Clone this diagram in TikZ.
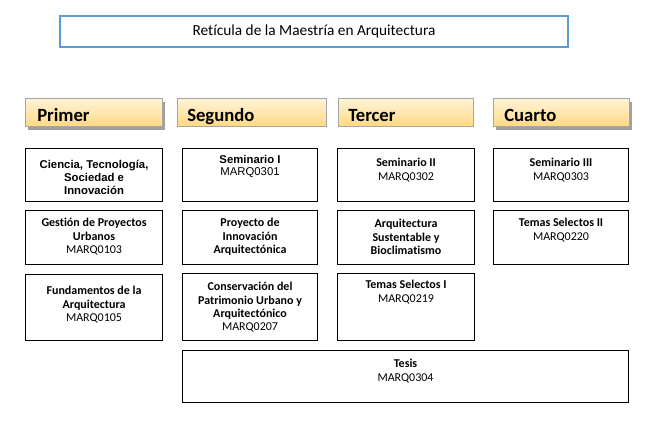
\documentclass[tikz,border=0pt]{standalone}
\usepackage{fontspec}
\setmainfont{Carlito}[Ligatures=NoCommon]
\newfontfamily\arialfont{Liberation Sans}
\usetikzlibrary{positioning,shadows}
\newlength{\pxu}
\setlength{\pxu}{0.75pt}
\definecolor{titleblue}{HTML}{5B9BD5}
\definecolor{hdrtop}{HTML}{FFF3D6}
\definecolor{hdrbot}{HTML}{FFD982}
\definecolor{hdrline}{HTML}{A6A6A6}
\definecolor{hdrshadow}{HTML}{A0A0A0}
\tikzset{
  hdr/.style={draw=hdrline, line width=0.9pt, top color=hdrtop, bottom color=hdrbot, anchor=north west, minimum height=28\pxu, inner sep=0pt},
  hdrshade/.style={drop shadow={shadow xshift=2.5\pxu, shadow yshift=-3\pxu, fill=hdrshadow, opacity=1}},
  hdrtext/.style={anchor=base west, inner sep=0pt, font=\fontsize{14}{16}\selectfont\bfseries},
  course/.style={draw, line width=0.8pt, anchor=north west, inner sep=0pt},
  ctext/.style={anchor=north, inner sep=0pt, align=center, font=\fontsize{9}{10}\selectfont},
}
\begin{document}
\begin{tikzpicture}[x=0.75pt,y=-0.75pt]
    \useasboundingbox (0,0) rectangle (652,422);
    \node[draw=titleblue, line width=1pt, minimum width=508\pxu, minimum height=31\pxu, font=\fontsize{11.5}{13}\selectfont] (title) at (314,31.5) {Retícula de la Maestría en Arquitectura};

    \node[hdr, hdrshade, minimum width=137\pxu] (primer) at (25,98) {};
    \node[hdr, minimum width=149\pxu] (segundo) at (177,98) {};
    \node[hdr, minimum width=135\pxu] (tercer) at (338,98) {};
    \node[hdr, hdrshade, minimum width=136\pxu] (cuarto) at (493,98) {};
    \node[hdrtext] (primer-t) at ([xshift=12\pxu,yshift=5.5\pxu]primer.south west) {Primer};
    \node[hdrtext] (segundo-t) at ([xshift=10\pxu,yshift=5.5\pxu]segundo.south west) {Segundo};
    \node[hdrtext] (tercer-t) at ([xshift=10\pxu,yshift=5.5\pxu]tercer.south west) {Tercer};
    \node[hdrtext] (cuarto-t) at ([xshift=11\pxu,yshift=5.5\pxu]cuarto.south west) {Cuarto};

    \node[course, minimum width=137\pxu, minimum height=53\pxu] (cts) at (25,148) {};
    \node[course, minimum width=135\pxu, minimum height=53\pxu] (sem1) at (182,148) {};
    \node[course, minimum width=137\pxu, minimum height=53\pxu] (sem2) at (337,148) {};
    \node[course, minimum width=135\pxu, minimum height=53\pxu] (sem3) at (493,148) {};
    \node[course, minimum width=137\pxu, minimum height=54\pxu] (gpu) at (25,210) {};
    \node[course, minimum width=135\pxu, minimum height=54\pxu] (pia) at (182,210) {};
    \node[course, minimum width=137\pxu, minimum height=54\pxu] (asb) at (337,210) {};
    \node[course, minimum width=135\pxu, minimum height=54\pxu] (ts2) at (493,210) {};
    \node[course, minimum width=137\pxu, minimum height=66\pxu] (fda) at (25,274) {};
    \node[course, minimum width=135\pxu, minimum height=67\pxu] (cpu) at (182,273) {};
    \node[course, minimum width=137\pxu, minimum height=67\pxu] (ts1) at (337,273) {};
    \node[course, minimum width=446\pxu, minimum height=52\pxu] (tesis) at (182,350) {};

    \node[ctext, below=12\pxu of cts.north, font=\arialfont\bfseries\fontsize{8.5}{9.75}\selectfont] (cts-t) {Ciencia, Tecnología,\\ Sociedad e\\ Innovación};
    \node[ctext, below=7\pxu of sem1.north, font=\arialfont\fontsize{8.5}{9}\selectfont] (sem1-t) {\textbf{Seminario I}\\ MARQ0301};
    \node[ctext, below=10\pxu of sem2.north] (sem2-t) {\textbf{Seminario II}\\ MARQ0302};
    \node[ctext, below=10\pxu of sem3.north] (sem3-t) {\textbf{Seminario III}\\ MARQ0303};
    \node[ctext, below=8\pxu of gpu.north] (gpu-t) {\textbf{Gestión de Proyectos}\\ \textbf{Urbanos}\\ MARQ0103};
    \node[ctext, below=8\pxu of pia.north] (pia-t) {\textbf{Proyecto de}\\ \textbf{Innovación}\\ \textbf{Arquitectónica}};
    \node[ctext, below=9\pxu of asb.north] (asb-t) {\textbf{Arquitectura}\\ \textbf{Sustentable y}\\ \textbf{Bioclimatismo}};
    \node[ctext, below=8\pxu of ts2.north] (ts2-t) {\textbf{Temas Selectos II}\\ MARQ0220};
    \node[ctext, below=12\pxu of fda.north] (fda-t) {\textbf{Fundamentos de la}\\ \textbf{Arquitectura}\\ MARQ0105};
    \node[ctext, below=9\pxu of cpu.north] (cpu-t) {\textbf{Conservación del}\\ \textbf{Patrimonio Urbano y}\\ \textbf{Arquitectónico}\\ MARQ0207};
    \node[ctext, below=7\pxu of ts1.north] (ts1-t) {\textbf{Temas Selectos I}\\ MARQ0219};
    \node[ctext, below=9\pxu of tesis.north] (tesis-t) {\textbf{Tesis}\\ MARQ0304};
\end{tikzpicture}
\end{document}
